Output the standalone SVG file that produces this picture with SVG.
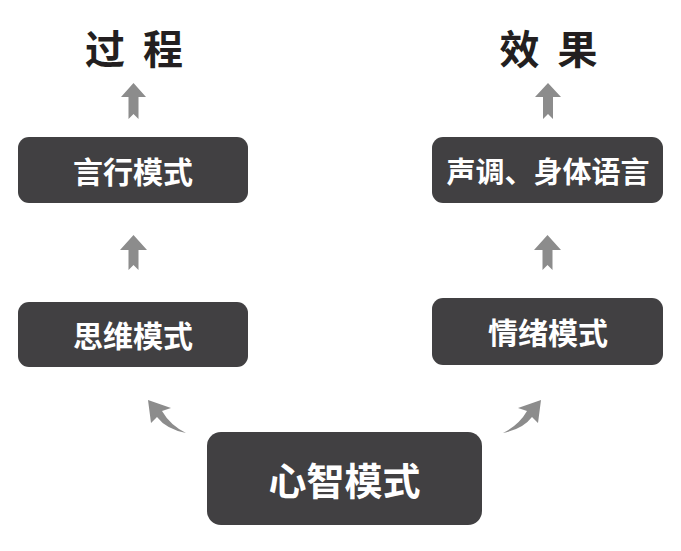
<svg xmlns="http://www.w3.org/2000/svg" width="681" height="551" viewBox="0 0 681 551">
<style>
.box{fill:#414042;}
.lbl{fill:#ffffff;font-family:"Noto Sans CJK SC","Noto Sans",sans-serif;font-weight:bold;text-anchor:middle;dominant-baseline:central;}
.title{fill:#231f20;font-family:"Noto Sans CJK SC","Noto Sans",sans-serif;font-weight:bold;font-size:40px;text-anchor:middle;dominant-baseline:central;}
.arr{fill:#8c8c8c;}
</style>
<rect width="681" height="551" fill="#ffffff"/>
<g id="title-process">
<text class="title" x="105" y="47">过</text>
<text class="title" x="163" y="47">程</text>
</g>
<g id="title-effect">
<text class="title" x="519.5" y="47">效</text>
<text class="title" x="577.5" y="47">果</text>
</g>
<g id="node-yanxing">
<rect class="box" x="18" y="137" width="230" height="66" rx="11"/>
<text class="lbl" x="133" y="170" font-size="30">言行模式</text>
</g>
<g id="node-siwei">
<rect class="box" x="18" y="302" width="230" height="65" rx="11"/>
<text class="lbl" x="133" y="334" font-size="30">思维模式</text>
</g>
<g id="node-shengdiao">
<rect class="box" x="432" y="137" width="231" height="66" rx="11"/>
<text class="lbl" x="548" y="170" font-size="29">声调、身体语言</text>
</g>
<g id="node-qingxu">
<rect class="box" x="432" y="298" width="231" height="67" rx="11"/>
<text class="lbl" x="548" y="331" font-size="30">情绪模式</text>
</g>
<g id="node-xinzhi">
<rect class="box" x="207" y="432" width="275" height="93" rx="14"/>
<text class="lbl" x="344.5" y="478" font-size="38">心智模式</text>
</g>
<g id="connectors">
<path class="arr" d="M133.5,83 L146,97 L138.5,97 L138.5,119 L133.5,114 L128.5,119 L128.5,97 L121,97 Z"/>
<path class="arr" d="M548,83 L561,97 L553,97 L553,119 L548,114 L543,119 L543,97 L535,97 Z"/>
<path class="arr" d="M133.5,235 L147,250 L138.5,250 L138.5,270 L133.5,265 L128.5,270 L128.5,250 L120,250 Z"/>
<path class="arr" d="M547.5,235 L561,250 L552.5,250 L552.5,270 L547.5,265 L542.5,270 L542.5,250 L534,250 Z"/>
<path class="arr" d="M148,400 L171,408 L162,411 Q170,425 186,433 Q166,429 157,417 L151,423 Z"/>
<path class="arr" d="M541,400 L518,408 L527,411 Q519,425 503,433 Q523,429 532,417 L538,423 Z"/>
</g>
</svg>
